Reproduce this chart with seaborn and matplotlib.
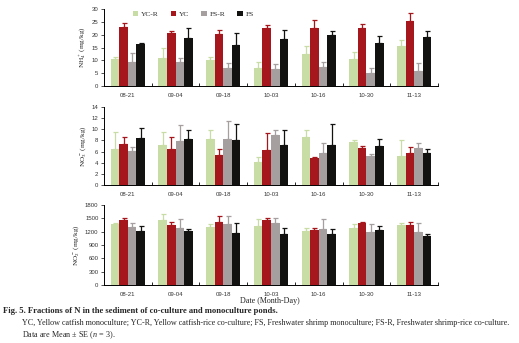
import numpy as np
import pandas as pd
import matplotlib
matplotlib.use("Agg")
import matplotlib.pyplot as plt
import seaborn as sns

dates = ["08-21", "09-04", "09-18", "10-03", "10-16", "10-30", "11-13"]
groups = ["YC-R", "YC", "FS-R", "FS"]
colors = ["#c8dca6", "#a5161d", "#a69f9f", "#121210"]

# NH4+ means and upper error tops
nh4_mean = {
    "YC-R": [10.5, 10.9, 10.1, 7.1, 12.5, 10.6, 15.6],
    "YC":   [23.0, 20.7, 20.2, 22.7, 22.5, 22.7, 25.3],
    "FS-R": [9.2, 9.3, 7.2, 6.5, 7.3, 5.2, 5.8],
    "FS":   [16.3, 18.7, 16.0, 18.3, 20.0, 16.9, 19.1],
}
nh4_top = {
    "YC-R": [11.3, 15.0, 11.2, 9.2, 15.5, 13.2, 18.0],
    "YC":   [24.5, 21.4, 22.0, 23.8, 25.6, 24.3, 28.3],
    "FS-R": [12.7, 11.0, 9.0, 8.4, 9.5, 7.1, 9.1],
    "FS":   [16.9, 22.5, 20.5, 21.9, 21.6, 19.6, 21.6],
}
no3_mean = {
    "YC-R": [6.4, 7.1, 8.3, 4.2, 8.6, 7.7, 5.2],
    "YC":   [7.3, 6.4, 5.3, 6.25, 4.8, 6.6, 5.8],
    "FS-R": [6.1, 7.9, 8.3, 8.9, 5.7, 5.2, 6.6],
    "FS":   [8.5, 8.2, 8.0, 7.1, 7.1, 7.0, 5.7],
}
no3_top = {
    "YC-R": [9.5, 9.5, 9.8, 5.1, 9.9, 8.1, 8.0],
    "YC":   [8.6, 8.6, 6.5, 9.3, 5.1, 7.0, 6.8],
    "FS-R": [6.8, 10.8, 11.5, 9.9, 7.6, 5.5, 7.6],
    "FS":   [10.3, 9.9, 10.9, 9.9, 10.9, 8.3, 6.4],
}
no2_mean = {
    "YC-R": [1380, 1463, 1313, 1320, 1223, 1283, 1343],
    "YC":   [1463, 1343, 1425, 1470, 1238, 1388, 1358],
    "FS-R": [1313, 1275, 1380, 1388, 1260, 1200, 1185],
    "FS":   [1215, 1215, 1178, 1155, 1155, 1230, 1103],
}
no2_top = {
    "YC-R": [1403, 1598, 1365, 1478, 1275, 1365, 1388],
    "YC":   [1500, 1425, 1545, 1508, 1290, 1410, 1410],
    "FS-R": [1395, 1478, 1553, 1508, 1478, 1365, 1395],
    "FS":   [1335, 1268, 1395, 1275, 1253, 1328, 1140],
}

panels = [
    (nh4_mean, nh4_top, r"NH$_4^+$ (mg/kg)", 30, 5),
    (no3_mean, no3_top, r"NO$_3^-$ (mg/kg)", 14, 2),
    (no2_mean, no2_top, r"NO$_2^-$ (mg/kg)", 1800, 300),
]

sns.set_style("ticks")
plt.rcParams["font.family"] = ["Liberation Sans", "DejaVu Sans"]
plt.rcParams["mathtext.fontset"] = "custom"
plt.rcParams["mathtext.rm"] = "Liberation Serif"
plt.rcParams["mathtext.it"] = "Liberation Serif:italic"

W, H = 519, 343
fig = plt.figure(figsize=(W / 100, H / 100), dpi=100)

rects = [(104, 9, 438, 86), (104, 107, 438, 185), (104, 205, 438, 285)]
serif = "Liberation Serif"

for i, ((mean, top, ylabel, ymax, ystep), (x0, y0, x1, y1)) in enumerate(zip(panels, rects)):
    ax = fig.add_axes([x0 / W, 1 - y1 / H, (x1 - x0) / W, (y1 - y0) / H])
    rows = []
    for g in groups:
        for d, v in zip(dates, mean[g]):
            rows.append({"date": d, "group": g, "value": v})
    df = pd.DataFrame(rows)
    sns.barplot(data=df, x="date", y="value", hue="group", order=dates,
                hue_order=groups, palette=colors, width=0.72, errorbar=None,
                saturation=1, ax=ax, legend=(i == 0), linewidth=0)
    for gi, g in enumerate(groups):
        cont = ax.containers[gi]
        xs = [p.get_x() + p.get_width() / 2 for p in cont]
        m = np.array(mean[g])
        err = np.array(top[g]) - m
        ax.errorbar(xs, m, yerr=[np.zeros_like(err), err], fmt="none",
                    ecolor=colors[gi], elinewidth=0.9, capsize=1.8, capthick=0.9)
    ax.set_xlim(-0.5, 6.5)
    ax.set_ylim(0, ymax)
    ax.set_yticks(np.arange(0, ymax + ystep / 2, ystep))
    ax.set_xlabel("")
    ax.set_ylabel(ylabel, fontsize=5.2, family=serif, labelpad=3)
    ax.set_xticks(range(len(dates)))
    ax.set_xticklabels(dates)
    ax.set_xticks(np.arange(0.5, 7, 1), minor=True)
    ax.tick_params(axis="x", which="major", length=0, labelsize=4.3, pad=5, colors="#333333")
    ax.tick_params(axis="x", which="minor", length=2, width=0.6, direction="in", color="black")
    ax.tick_params(axis="y", which="major", length=2, width=0.6, labelsize=4.3, pad=2, colors="#333333")
    for s in ["top", "right"]:
        ax.spines[s].set_visible(False)
    for s in ["left", "bottom"]:
        ax.spines[s].set_linewidth(0.7)
        ax.spines[s].set_color("black")
    if i == 0:
        leg = ax.legend(loc="upper left", bbox_to_anchor=(0.066, 1.06), ncol=4, frameon=False,
                        handlelength=0.7, handleheight=0.7,
                        columnspacing=1.6, handletextpad=0.4,
                        prop={"family": serif, "size": 5.4})

fig.text(270 / W, 1 - 301 / H, "Date (Month-Day)", ha="center", va="center",
         fontsize=5.8, family=serif)
fig.text(3 / W, 1 - 311 / H,
         "Fig. 5. Fractions of N in the sediment of co-culture and monoculture ponds.",
         ha="left", va="center", fontsize=6.2, family=serif, weight="bold")
fig.text(22 / W, 1 - 323 / H,
         "YC, Yellow catfish monoculture; YC-R, Yellow catfish-rice co-culture; FS, Freshwater shrimp monoculture; FS-R, Freshwater shrimp-rice co-culture.",
         ha="left", va="center", fontsize=5.85, family=serif)
fig.text(22 / W, 1 - 335 / H, r"Data are Mean $\pm$ SE ($\it{n}$ = 3).",
         ha="left", va="center", fontsize=5.85, family=serif)

fig.savefig("out.png", dpi=100)
